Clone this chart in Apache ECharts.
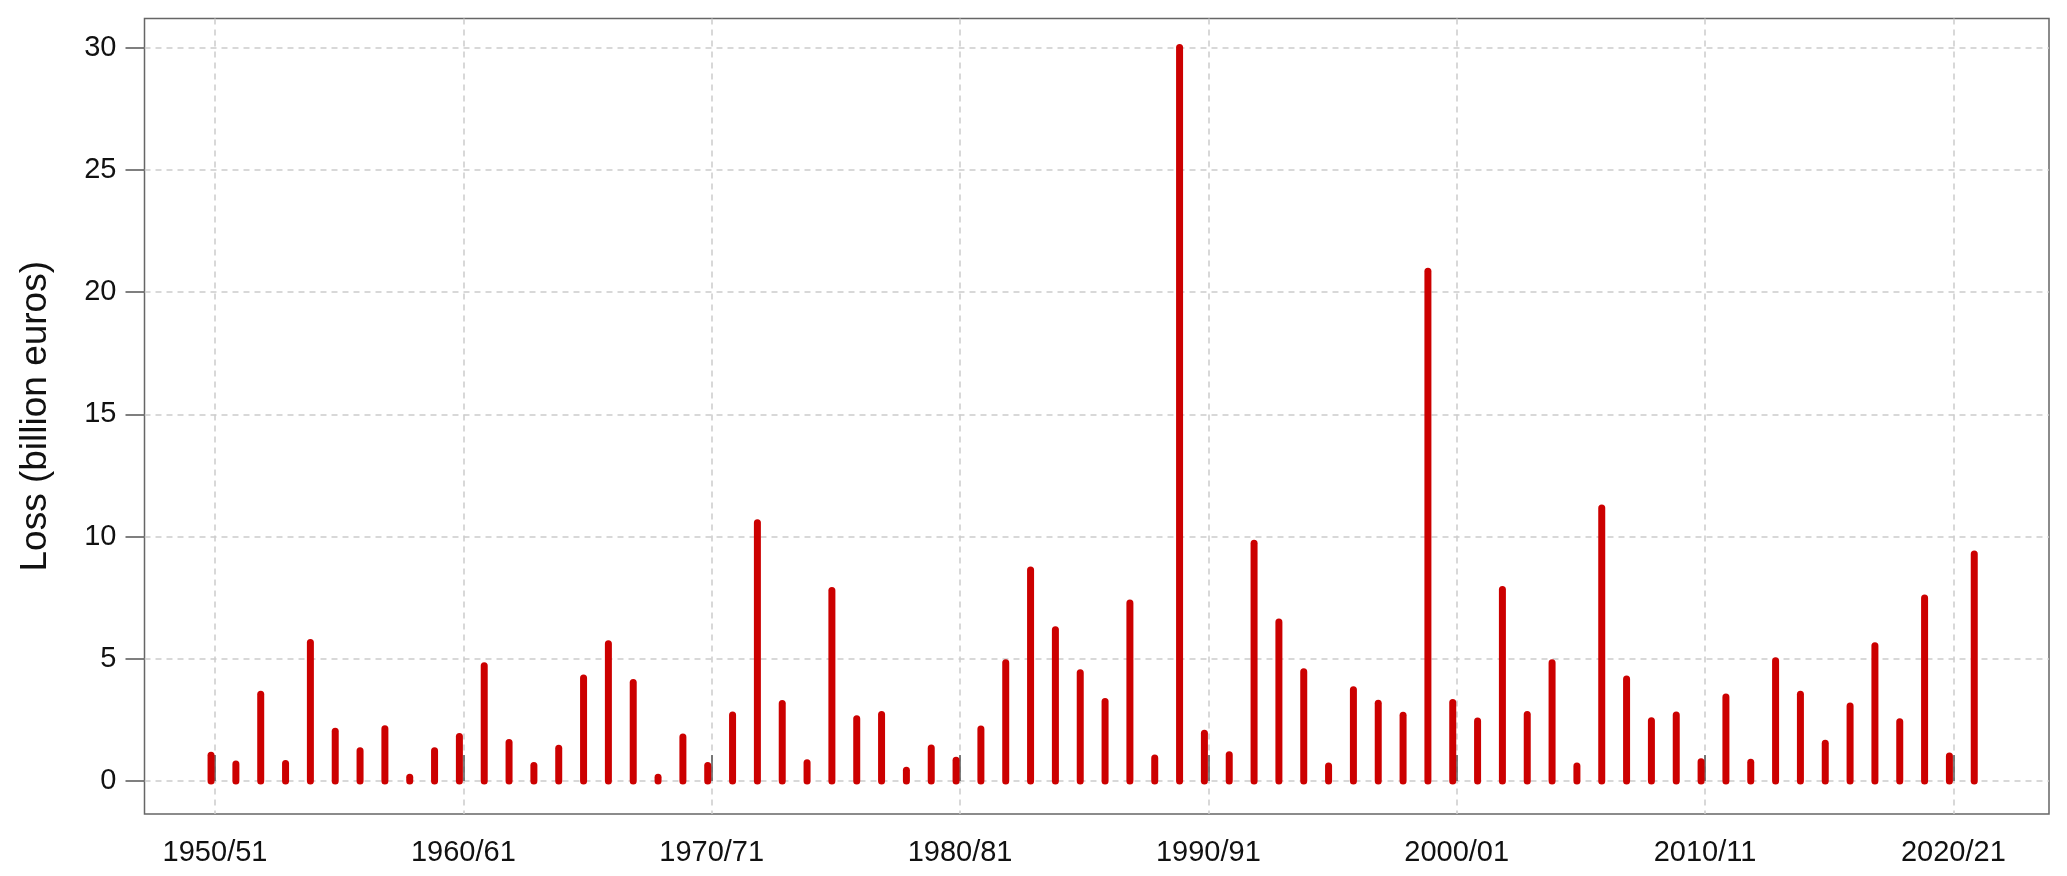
<!DOCTYPE html>
<html>
<head>
<meta charset="utf-8">
<script src="https://cdn.jsdelivr.net/npm/echarts@6/dist/echarts.min.js"></script>
<style>
html,body{margin:0;padding:0;background:#fff;}
#chart{width:2067px;height:876px;}
</style>
</head>
<body>
<div id="chart"></div>
<script>
// Winter start years (season YYYY/YY+1)
const years = [];
for (let y = 1950; y <= 2021; y++) years.push(y);

// Loss in billion euros, per season 1950/51 .. 2021/22
const losses = [
  1.05, 0.70, 3.55, 0.72, 5.67, 2.04, 1.24, 2.14, 0.15, 1.24,
  1.82, 4.71, 1.57, 0.63, 1.34, 4.21, 5.61, 4.03, 0.15, 1.80,
  0.63, 2.70, 10.56, 3.17, 0.75, 7.79, 2.55, 2.72, 0.44, 1.35,
  0.85, 2.13, 4.84, 8.63, 6.19, 4.43, 3.25, 7.28, 0.94, 30.0,
  1.95, 1.07, 9.73, 6.50, 4.47, 0.61, 3.73, 3.18, 2.69, 20.85,
  3.21, 2.45, 7.83, 2.72, 4.84, 0.61, 11.17, 4.17, 2.46, 2.70,
  0.79, 3.44, 0.77, 4.92, 3.55, 1.54, 3.07, 5.53, 2.42, 7.49,
  1.02, 9.29
];

const xTickYears = [1950, 1960, 1970, 1980, 1990, 2000, 2010, 2020];
const xTickLabels = ['1950/51', '1960/61', '1970/71', '1980/81', '1990/91', '2000/01', '2010/11', '2020/21'];
const yTicks = [0, 5, 10, 15, 20, 25, 30];
const yTitle = 'Loss (billion euros)';

const TICK_SHIFT = 0.16;
const xTickPos = xTickYears.map(v => v + TICK_SHIFT);
const seriesData = years.map((y, i) => [y, losses[i]]);

const chart = echarts.init(document.getElementById('chart'), null, {renderer: 'canvas'});
const FONT = 'Liberation Sans, Arial, sans-serif';

chart.setOption({
  backgroundColor: '#ffffff',
  animation: false,
  grid: {
    left: 144.5, right: 18, top: 18.5, bottom: 62,
    show: true, borderColor: '#666666', borderWidth: 1.5, backgroundColor: 'transparent'
  },
  xAxis: {
    type: 'value',
    min: 1947.32,
    max: 2024.01,
    axisLine: {show: false},
    axisTick: {
      show: true, inside: true, length: 26,
      customValues: xTickPos,
      lineStyle: {color: '#555555', width: 1.5}
    },
    axisLabel: {
      show: true,
      customValues: xTickPos,
      margin: 24,
      fontSize: 29,
      fontFamily: FONT,
      color: '#111111',
      formatter: function (v) {
        const idx = xTickYears.indexOf(Math.round(v - TICK_SHIFT));
        return idx >= 0 ? xTickLabels[idx] : '';
      }
    },
    splitLine: {
      show: true,
      lineStyle: {color: '#cccccc', type: [6, 5], width: 1.5}
    }
  },
  yAxis: {
    type: 'value',
    min: -1.35,
    max: 31.19,
    name: yTitle,
    nameLocation: 'middle',
    nameGap: 90,
    nameRotate: 90,
    nameTextStyle: {fontSize: 37, fontFamily: FONT, color: '#111111'},
    axisLine: {show: false},
    axisTick: {
      show: true, inside: false, length: 19,
      customValues: yTicks,
      lineStyle: {color: '#555555', width: 1.5}
    },
    axisLabel: {
      show: true,
      customValues: yTicks,
      margin: 28,
      fontSize: 29,
      fontFamily: FONT,
      color: '#111111'
    },
    splitLine: {
      show: true,
      lineStyle: {color: '#cccccc', type: [6, 5], width: 1.5}
    }
  },
  series: [{
    type: 'custom',
    data: seriesData,
    clip: false,
    renderItem: function (params, api) {
      const x = api.value(0);
      const v = api.value(1);
      const p0 = api.coord([x, 0]);
      const p1 = api.coord([x, v]);
      return {
        type: 'line',
        shape: {x1: p0[0], y1: p0[1], x2: p1[0], y2: p1[1]},
        style: {stroke: '#cc0000', lineWidth: 7, lineCap: 'round'}
      };
    }
  }]
});
</script>
</body>
</html>
